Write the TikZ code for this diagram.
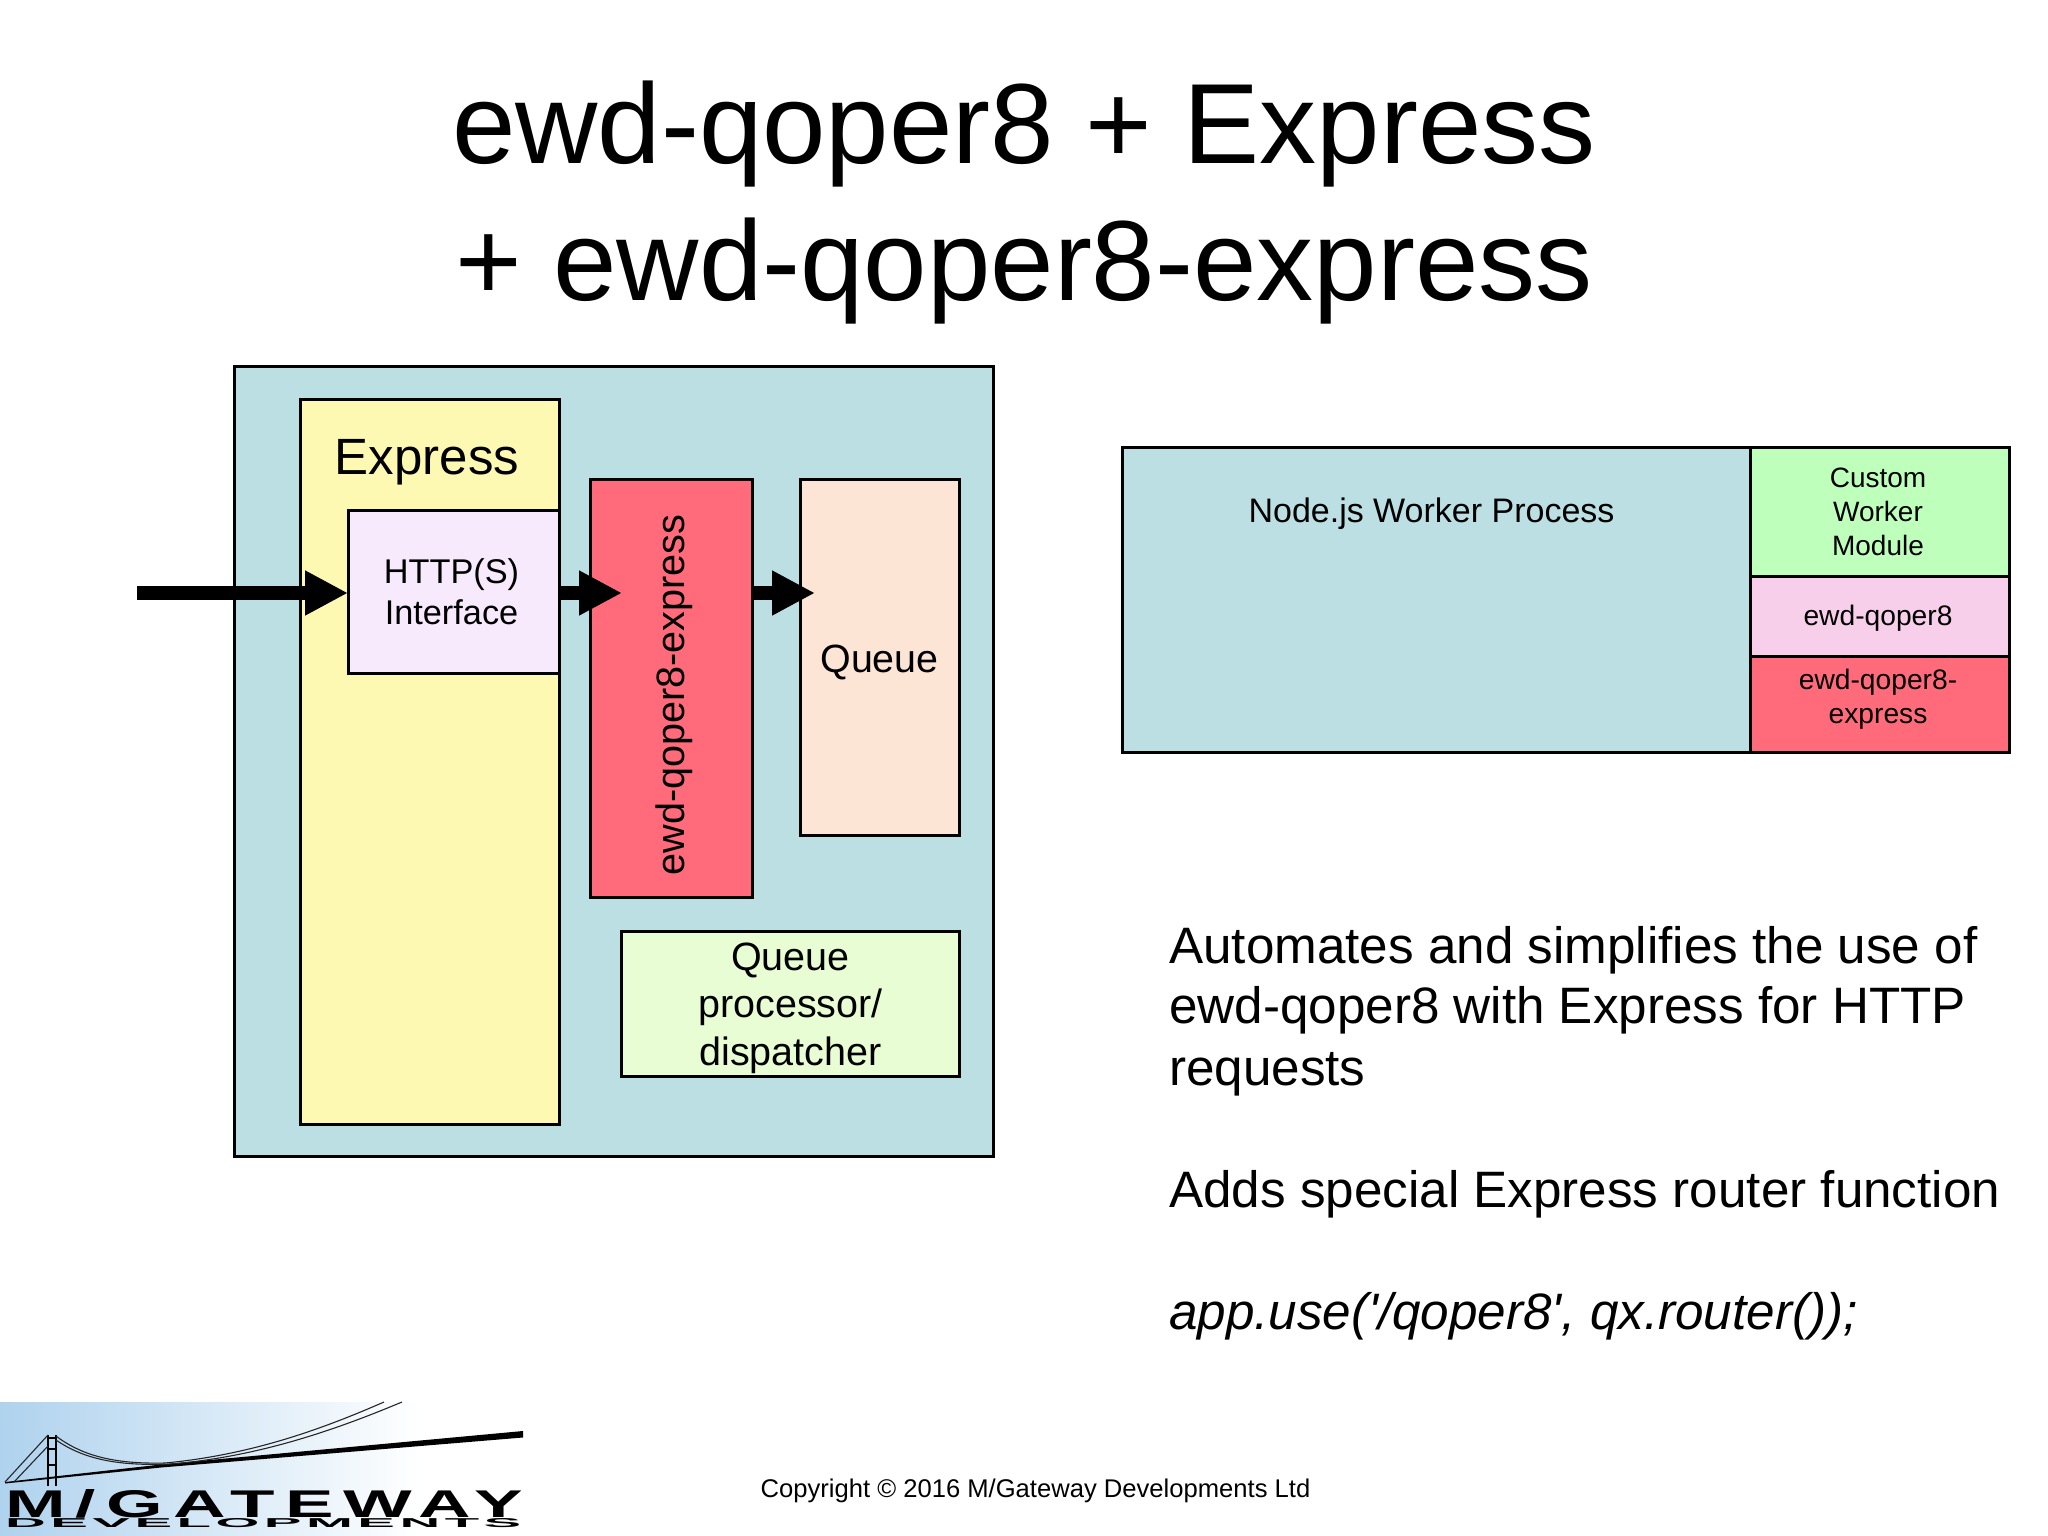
\documentclass[tikz,border=0pt]{standalone}
\usepackage{fontspec}
\usepackage{graphicx}
\setmainfont{Liberation Sans}
\newfontfamily\plainsans{Liberation Sans}
\usetikzlibrary{arrows.meta}
\definecolor{cblue}{HTML}{BBDFE3}
\definecolor{cyellow}{HTML}{FDF9B3}
\definecolor{clilac}{HTML}{F7EAFD}
\definecolor{cred}{HTML}{FF6B7B}
\definecolor{cpeach}{HTML}{FDE5D6}
\definecolor{cpale}{HTML}{E8FDD3}
\definecolor{cgreen}{HTML}{BDFFBB}
\definecolor{cpink}{HTML}{F8CFEA}
\definecolor{clogo}{HTML}{AFD2EE}
\newcommand{\fsz}[2]{\fontsize{#1}{#2}\selectfont}
\tikzset{
  boxed/.style={draw=black,line width=3pt,inner sep=0pt,outer sep=0pt,align=center},
  bigarrow/.style={line width=13.5pt,-{Triangle[length=43pt,width=42pt]},black},
  titletext/.style={anchor=base,inner sep=0pt,font=\fsz{114}{114}},
  bodytext/.style={anchor=base west,inner sep=0pt,font=\fsz{51.2}{60}},
  plainlabel/.style={inner sep=0pt,align=center},
  thin line/.style={line width=1.1pt,black!85}
}
\begin{document}
\begin{tikzpicture}[x=1pt,y=-1pt]
\useasboundingbox (0,0) rectangle (2048,1536);
\fill[white] (0,0) rectangle (2048,1536);
% title
\node[titletext] (t1) at (1024,164) {ewd-qoper8 + Express};
\node[titletext] (t2) at (1024,300) {+ ewd-qoper8-express};
% left diagram
\node[boxed,fill=cblue,minimum width=759pt,minimum height=790pt] (outer) at (614,761) {};
\node[boxed,fill=cyellow,minimum width=259pt,minimum height=725pt] (express) at (429.5,761.5) {};
\node[anchor=base,inner sep=0pt,font=\fsz{51}{51}] (expresslabel) at (427,474) {Express};
\node[boxed,fill=clilac,minimum width=211pt,minimum height=163pt] (http) at (453.5,591.5) {};
\node[plainlabel,font=\fsz{34.3}{41}] (httplabel) at (451.5,592) {HTTP(S)\\Interface};
\node[boxed,fill=cred,minimum width=162pt,minimum height=418pt] (ewd) at (671.5,688) {};
\node[rotate=90,inner sep=0pt,font=\fsz{39.6}{39.6}] (ewdlabel) at (674,695) {ewd-qoper8-express};
\node[boxed,fill=cpeach,minimum width=159pt,minimum height=356pt] (queue) at (880,657) {};
\node[plainlabel,font=\fsz{39.4}{39}] (queuelabel) at (879.5,662) {Queue};
\node[boxed,fill=cpale,minimum width=338pt,minimum height=145pt] (qp) at (790.5,1003.5) {};
\node[plainlabel,font=\fsz{39.5}{47.5}] (qplabel) at (790.5,1008) {Queue\\processor/\\dispatcher};
% arrows
\coordinate (src) at (137,593);
\coordinate (t2ip) at (622,593);
\coordinate (t3ip) at (815,593);
\draw[bigarrow] (src) -- (http.west |- src);
\draw[bigarrow] (http.east |- t2ip) -- (t2ip);
\draw[bigarrow] (ewd.east |- t3ip) -- (t3ip);
% right diagram
\node[boxed,fill=cblue,minimum width=628pt,minimum height=305pt] (worker) at (1436.5,599.5) {};
\node[anchor=base,inner sep=0pt,font=\fsz{34}{34}] (workerlabel) at (1431.5,522) {Node.js Worker Process};
\node[boxed,fill=cgreen,minimum width=259pt,minimum height=129pt] (custom) at (1879.5,511.5) {};
\node[plainlabel,font=\fsz{28}{34}] (customlabel) at (1878,512) {Custom\\Worker\\Module};
\node[boxed,fill=cpink,minimum width=259pt,minimum height=80pt] (qoper) at (1879.5,616) {};
\node[plainlabel,font=\fsz{28.2}{34}] (qoperlabel) at (1878,618.5) {ewd-qoper8};
\node[boxed,fill=cred,minimum width=259pt,minimum height=96pt] (qexp) at (1879.5,704) {};
\node[plainlabel,font=\fsz{28.2}{34}] (qexplabel) at (1878,699.5) {ewd-qoper8-\\express};
% body text
\node[bodytext] (b1) at (1169,963) {Automates and simplifies the use of};
\node[bodytext] (b2) at (1169,1023) {ewd-qoper8 with Express for HTTP};
\node[bodytext] (b3) at (1169,1085.5) {requests};
\node[bodytext] (b4) at (1169,1207.5) {Adds special Express router function};
\node[bodytext] (b5) at (1169,1329.5) {\plainsans\itshape app.use('/qoper8', qx.router());};
% copyright
\node[anchor=base,inner sep=0pt,font=\fsz{25.6}{26}] (copy) at (1035.5,1497) {Copyright © 2016 M/Gateway Developments Ltd};
% logo
\shade[left color=clogo,right color=white] (0,1402) rectangle (420,1536);
\fill[black] (5,1482) -- (161,1464.5) -- (523,1431) -- (523,1437.5) -- (161,1467.5) -- (5,1483.5) -- cycle;
\draw[line width=1.6pt] (48,1435) -- (48,1486) (56,1435) -- (56,1486);
\draw[line width=1.6pt] (48,1438) -- (56,1438) (48,1449) -- (56,1449) (48,1465) -- (56,1465);
\draw[thin line] (5,1482) -- (48,1435);
\draw[thin line] (14,1482) -- (48,1446);
\draw[thin line] (56,1436) .. controls (85,1458) and (120,1464) .. (165,1463) .. controls (250,1455) and (320,1430) .. (384,1402);
\draw[thin line] (56,1440) .. controls (85,1460) and (120,1466) .. (170,1464) .. controls (260,1457) and (340,1428) .. (402,1402);
\node[anchor=north west,inner sep=0pt] (gw) at (5,1489) {\resizebox{518pt}{28pt}{\addfontfeatures{LetterSpace=14}\bfseries M/GATEWAY}};
\node[anchor=north west,inner sep=0pt] (dv) at (5,1518) {\resizebox{516pt}{9pt}{\addfontfeatures{LetterSpace=8}\bfseries DEVELOPMENTS}};
\end{tikzpicture}
\end{document}
